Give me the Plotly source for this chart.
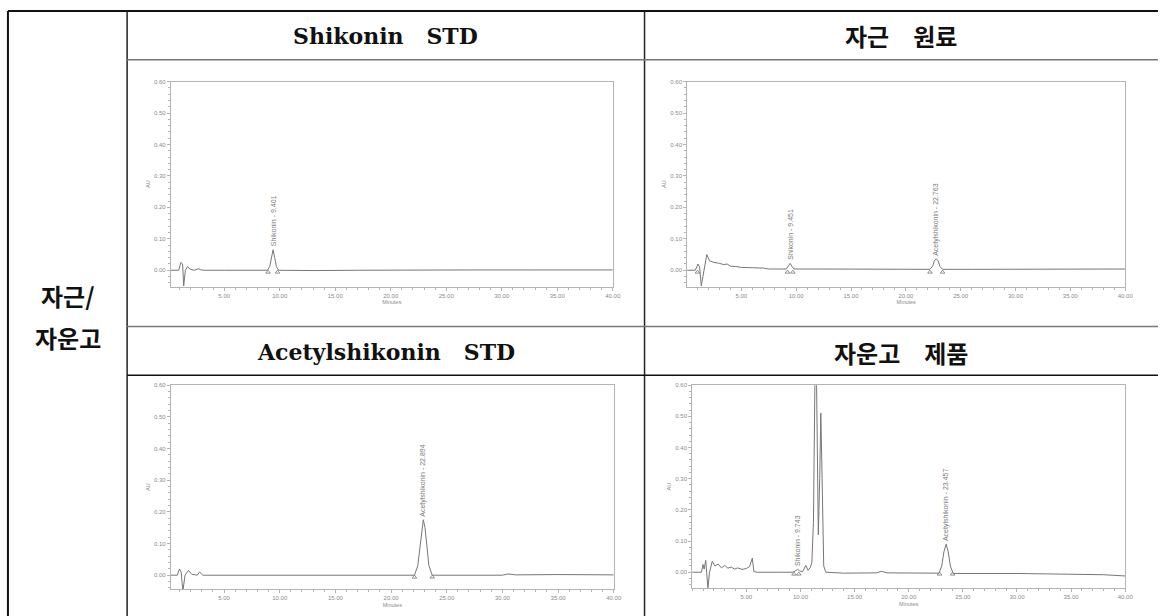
import plotly.graph_objects as go

W, H = 1164, 616

# ---- chromatogram data (time in minutes, absorbance in AU) ----
shikonin_std_t = [0.0, 0.9, 1.1, 1.25, 1.35, 1.5, 1.7, 1.9, 2.3, 2.7, 2.9, 3.2, 5.0, 8.9, 9.1, 9.25, 9.401, 9.55, 9.7, 9.9, 12.0, 13.0, 17.0, 20.0, 23.0, 27.0, 33.0, 40.0]
shikonin_std_y = [0.0, 0.0, 0.025, 0.02, -0.05, 0.0, 0.012, 0.004, 0.0, 0.005, 0.001, 0.0, 0.0, 0.0, 0.012, 0.04, 0.065, 0.04, 0.012, 0.0, -0.002, -0.001, 0.0, 0.001, 0.002, 0.001, 0.001, 0.001]

raw_root_t = [0.0, 0.8, 1.05, 1.2, 1.35, 1.6, 1.85, 2.1, 2.5, 3.0, 3.4, 3.7, 4.0, 4.5, 5.0, 6.0, 7.0, 7.5, 8.5, 9.1, 9.3, 9.451, 9.6, 9.8, 12.0, 16.0, 20.0, 22.2, 22.45, 22.6, 22.763, 22.95, 23.1, 23.35, 26.0, 32.0, 40.0]
raw_root_y = [0.0, 0.0, 0.02, 0.01, -0.05, 0.0, 0.05, 0.03, 0.025, 0.022, 0.018, 0.02, 0.013, 0.012, 0.009, 0.008, 0.007, 0.004, 0.003, 0.004, 0.014, 0.022, 0.013, 0.004, 0.004, 0.003, 0.003, 0.003, 0.013, 0.03, 0.036, 0.03, 0.013, 0.003, 0.003, 0.003, 0.004]

acetyl_std_t = [0.0, 0.8, 1.0, 1.15, 1.3, 1.5, 1.8, 2.1, 2.6, 2.8, 3.1, 5.0, 10.0, 15.0, 20.0, 22.1, 22.4, 22.6, 22.75, 22.894, 23.05, 23.2, 23.4, 23.7, 26.0, 30.0, 30.5, 31.2, 35.0, 40.0]
acetyl_std_y = [0.0, 0.0, 0.02, 0.01, -0.05, 0.0, 0.015, 0.003, 0.0, 0.01, 0.0, 0.0, -0.001, 0.0, 0.0, 0.0, 0.03, 0.09, 0.15, 0.175, 0.15, 0.09, 0.03, 0.0, 0.0, 0.0, 0.004, 0.001, 0.002, 0.001]

ointment_t = [0.0, 0.85, 1.0, 1.1, 1.25, 1.45, 1.6, 1.85, 2.1, 2.4, 2.7, 3.0, 3.3, 3.6, 3.9, 4.2, 4.6, 5.0, 5.3, 5.55, 5.7, 6.0, 8.0, 9.3, 9.6, 9.743, 9.9, 10.2, 10.5, 10.7, 10.9, 11.05, 11.2, 11.35, 11.45, 11.55, 11.65, 11.78, 11.88, 12.0, 12.15, 12.35, 14.0, 17.0, 17.5, 18.0, 22.8, 23.05, 23.25, 23.457, 23.65, 23.85, 24.1, 30.0, 35.0, 38.0, 40.0]
ointment_y = [0.0, 0.0, 0.025, 0.01, 0.038, -0.05, 0.0, 0.035, 0.02, 0.026, 0.014, 0.022, 0.013, 0.017, 0.01, 0.014, 0.009, 0.012, 0.018, 0.045, 0.002, 0.0, 0.0, 0.0, 0.006, 0.01, 0.004, 0.002, 0.022, 0.006, 0.015, 0.03, 0.16, 0.66, 0.72, 0.32, 0.12, 0.3, 0.51, 0.3, 0.02, 0.0, -0.003, -0.002, 0.003, -0.002, -0.003, 0.02, 0.065, 0.09, 0.065, 0.02, -0.004, -0.004, -0.006, -0.008, -0.012]

# peak annotations: (time, apex, label)
shikonin_std_peaks = [(9.401, 0.065, "Shikonin - 9.401")]
raw_root_peaks = [(9.451, 0.022, "Shikonin - 9.451"), (22.763, 0.036, "Acetylshikonin - 22.763")]
acetyl_std_peaks = [(22.894, 0.175, "Acetylshikonin - 22.894")]
ointment_peaks = [(9.743, 0.01, "Shikonin - 9.743"), (23.457, 0.09, "Acetylshikonin - 23.457")]

# integration markers at the peak start / end
shikonin_std_marks = [8.95, 9.8]
raw_root_marks = [1.0, 9.2, 9.7, 22.2, 23.35]
acetyl_std_marks = [22.1, 23.7]
ointment_marks = [9.4, 9.85, 22.85, 24.05]

y_ticks = [0.0, 0.1, 0.2, 0.3, 0.4, 0.5, 0.6]
x_ticks = [5, 10, 15, 20, 25, 30, 35, 40]

NB = "\u00a0"
titles = ["Shikonin" + NB * 3 + "STD", "자근\u2003원료", "Acetylshikonin" + NB * 3 + "STD", "자운고\u2003제품"]
row_label_lines = ["자근/", "자운고"]

panels = [
    dict(t=shikonin_std_t, y=shikonin_std_y, peaks=shikonin_std_peaks, marks=shikonin_std_marks,
         box=(172, 617, 79, 285), xr=[0.19, 40], yr=[-0.052, 0.6]),
    dict(t=raw_root_t, y=raw_root_y, peaks=raw_root_peaks, marks=raw_root_marks,
         box=(692, 1133, 79, 285), xr=[0.07, 40], yr=[-0.052, 0.6]),
    dict(t=acetyl_std_t, y=acetyl_std_y, peaks=acetyl_std_peaks, marks=acetyl_std_marks,
         box=(172, 618, 384, 589), xr=[0.22, 40], yr=[-0.044, 0.6]),
    dict(t=ointment_t, y=ointment_y, peaks=ointment_peaks, marks=ointment_marks,
         box=(697, 1133, 384, 588), xr=[0.0, 40], yr=[-0.051, 0.6]),
]

def fx(px):
    return px / W

def fy(py):
    return 1 - py / H

fig = go.Figure()
annotations = []
shapes = []
LINE = "#767676"
AXC = "#b4b4b4"
TXT = "#8a8a8a"
small = dict(family="Liberation Sans, Arial", size=6, color=TXT)

for i, p in enumerate(panels, start=1):
    xa = "x" if i == 1 else f"x{i}"
    ya = "y" if i == 1 else f"y{i}"
    fig.add_trace(go.Scatter(x=p["t"], y=p["y"], mode="lines", xaxis=xa, yaxis=ya,
                             line=dict(color=LINE, width=1), showlegend=False, hoverinfo="skip"))
    fig.add_trace(go.Scatter(x=p["marks"], y=[-0.006] * len(p["marks"]), mode="markers", xaxis=xa, yaxis=ya,
                             marker=dict(symbol="triangle-up-open", size=4, color=LINE, line=dict(width=0.8)),
                             showlegend=False, hoverinfo="skip", cliponaxis=False))
    x0, x1, y0, y1 = p["box"]
    axis_common = dict(showline=True, mirror=True, linecolor=AXC, linewidth=1, ticks="outside",
                       ticklen=3, tickcolor=AXC, tickfont=small, showgrid=False, zeroline=False)
    fig.layout[f"xaxis{'' if i == 1 else i}"] = dict(
        domain=[fx(x0), fx(x1)], anchor=ya, range=p["xr"], tickvals=x_ticks, tickformat=".2f",
        minor=dict(dtick=1, tick0=0, ticks="outside", ticklen=2, tickcolor=AXC),
        title=dict(text="Minutes", font=dict(family="Liberation Sans, Arial", size=5.5, color=TXT), standoff=2),
        **axis_common)
    fig.layout[f"yaxis{'' if i == 1 else i}"] = dict(
        domain=[fy(y1), fy(y0)], anchor=xa, range=p["yr"], tickvals=y_ticks, tickformat=".2f",
        minor=dict(dtick=0.02, tick0=0, ticks="outside", ticklen=2, tickcolor=AXC),
        title=dict(text="AU", font=dict(family="Liberation Sans, Arial", size=5.5, color=TXT), standoff=3),
        **axis_common)
    for t, apex, label in p["peaks"]:
        annotations.append(dict(x=t, y=apex + 0.004, xref=xa, yref=ya, text=label, textangle=-90,
                                showarrow=False, xanchor="center", yanchor="bottom",
                                font=dict(family="Liberation Sans, Arial", size=7, color="#7a7a7a")))

# ---- table frame ----
def hline(y, x0, x1, color, w):
    shapes.append(dict(type="line", xref="paper", yref="paper", x0=fx(x0), x1=fx(x1), y0=fy(y), y1=fy(y),
                       line=dict(color=color, width=w)))

def vline(x, y0, y1, color, w):
    shapes.append(dict(type="line", xref="paper", yref="paper", x0=fx(x), x1=fx(x), y0=fy(y0), y1=fy(y1),
                       line=dict(color=color, width=w)))

hline(8, 8, 1166, "#111111", 2)
vline(8, 8, 620, "#111111", 2)
vline(128, 8, 620, "#222222", 1.5)
vline(649, 8, 620, "#222222", 1.5)
hline(57, 128, 1166, "#777777", 1.5)
hline(325, 128, 1166, "#777777", 1.5)
hline(374, 128, 1166, "#111111", 1.5)

serif = dict(family="DejaVu Serif, Noto Sans CJK KR", size=22, color="#111111", weight="bold")
kor = dict(family="Noto Sans CJK KR", size=24, color="#111111", weight="bold")
title_pos = [((128 + 649) / 2, 33, serif), ((649 + 1166) / 2, 33, kor),
             ((128 + 649) / 2, 351, serif), ((649 + 1166) / 2, 351, kor)]
for text, (cx, cy, f) in zip(titles, title_pos):
    annotations.append(dict(x=fx(cx), y=fy(cy), xref="paper", yref="paper", text=text, showarrow=False,
                            xanchor="center", yanchor="middle", font=f))
for text, cy in zip(row_label_lines, [294, 336]):
    annotations.append(dict(x=fx(68), y=fy(cy), xref="paper", yref="paper", text=text, showarrow=False,
                            xanchor="center", yanchor="middle", font=dict(kor, size=24)))

fig.update_layout(width=W, height=H, margin=dict(l=0, r=0, t=0, b=0), paper_bgcolor="white",
                  plot_bgcolor="white", annotations=annotations, shapes=shapes)
fig.write_html("out.html")
